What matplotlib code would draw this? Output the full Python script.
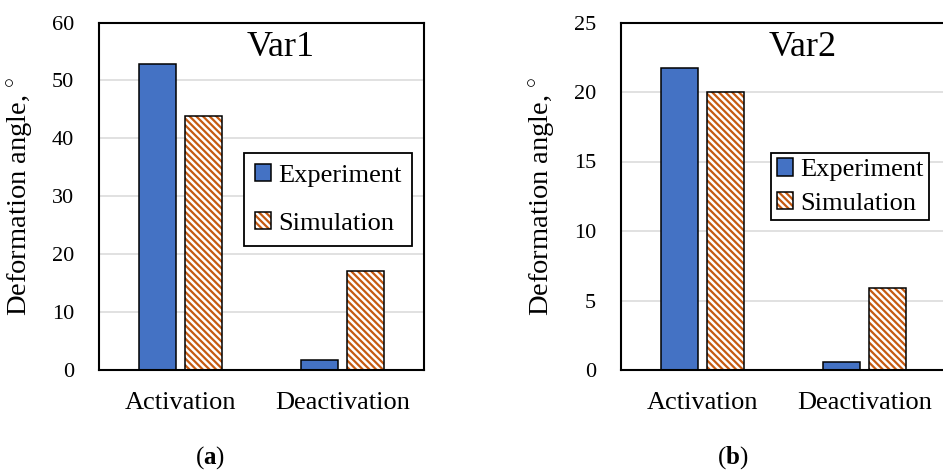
import matplotlib.pyplot as plt
import numpy as np
from matplotlib.patches import Patch
from matplotlib.legend_handler import HandlerTuple

# dados
categories = ["Activation", "Deactivation"]
series = ["Experiment", "Simulation"]
var1_exp = [52.9, 1.7]
var1_sim = [43.8, 17.1]
var2_exp = [21.7, 0.6]
var2_sim = [20.0, 5.9]
var1_ticks = [0, 10, 20, 30, 40, 50, 60]
var2_ticks = [0, 5, 10, 15, 20, 25]

BLUE = "#4472C4"
ORANGE = "#C55A11"
HATCH = "\\\\\\\\\\"

plt.rcParams["font.family"] = "Liberation Serif"
plt.rcParams["mathtext.fontset"] = "custom"
plt.rcParams["mathtext.rm"] = "Liberation Serif"
plt.rcParams["mathtext.bf"] = "Liberation Serif:bold"
plt.rcParams["hatch.linewidth"] = 1.6


def draw_panel(ax, exp, sim, ticks, title):
    x = np.arange(len(categories))
    off, w = 0.142, 0.227
    ax.bar(x - off, exp, w, color=BLUE, edgecolor="black", lw=1.1, zorder=3)
    # barras hachuradas: hachura laranja + contorno preto por cima
    ax.bar(x + off, sim, w, color="white", edgecolor=ORANGE, hatch=HATCH, lw=0, zorder=3)
    ax.bar(x + off, sim, w, fill=False, edgecolor="black", lw=1.1, zorder=4)

    ax.set_xlim(-0.5, 1.5)
    ax.set_ylim(ticks[0], ticks[-1])
    ax.set_yticks(ticks)
    ax.set_xticks(x)
    ax.set_xticklabels(categories, fontsize=19)
    ax.tick_params(axis="y", length=0, pad=18, labelsize=16)
    ax.tick_params(axis="x", length=0, pad=16)
    ax.grid(axis="y", color="#D9D9D9", lw=1.1, zorder=0)
    for s in ax.spines.values():
        s.set_linewidth(1.5)
        s.set_zorder(5)

    ax.set_ylabel(r"Deformation angle, $^{\circ}$", fontsize=20.5)
    ax.yaxis.set_label_coords(-0.196, 0.5)
    ax.text(0.56, 0.927, title, transform=ax.transAxes, fontsize=26,
            ha="center", va="center")

    h_exp = Patch(facecolor=BLUE, edgecolor="black", lw=1.1)
    h_sim = (Patch(facecolor="white", edgecolor=ORANGE, hatch=HATCH, lw=0),
             Patch(fill=False, edgecolor="black", lw=1.1))
    return h_exp, h_sim


fig = plt.figure(figsize=(9.43, 4.70), dpi=100)
ax1 = fig.add_axes([99 / 943, 100 / 470, 325 / 943, 347.5 / 470])
ax2 = fig.add_axes([621 / 943, 100 / 470, 325 / 943, 347.5 / 470])

h1 = draw_panel(ax1, var1_exp, var1_sim, var1_ticks, "Var1")
leg1 = ax1.legend(h1, series, loc="center", bbox_to_anchor=(0.705, 0.491),
                  handler_map={tuple: HandlerTuple(ndivide=1)}, fontsize=19,
                  fancybox=False, framealpha=1, edgecolor="black",
                  handlelength=0.62, handleheight=0.62, handletextpad=0.25,
                  labelspacing=0.95, borderpad=0.42, borderaxespad=0)
leg1.get_frame().set_linewidth(1.3)
leg1.set_zorder(6)

h2 = draw_panel(ax2, var2_exp, var2_sim, var2_ticks, "Var2")
leg2 = ax2.legend(h2, series, loc="center", bbox_to_anchor=(0.705, 0.528),
                  handler_map={tuple: HandlerTuple(ndivide=1)}, fontsize=19,
                  fancybox=False, framealpha=1, edgecolor="black",
                  handlelength=0.62, handleheight=0.62, handletextpad=0.25,
                  labelspacing=0.4, borderpad=0.22, borderaxespad=0)
leg2.get_frame().set_linewidth(1.3)
leg2.set_zorder(6)

fig.text(210 / 943, 1 - 458 / 470, r"($\mathbf{a}$)", fontsize=18, ha="center", va="center")
fig.text(733 / 943, 1 - 458 / 470, r"($\mathbf{b}$)", fontsize=18, ha="center", va="center")

fig.savefig("out.png", dpi=100)
